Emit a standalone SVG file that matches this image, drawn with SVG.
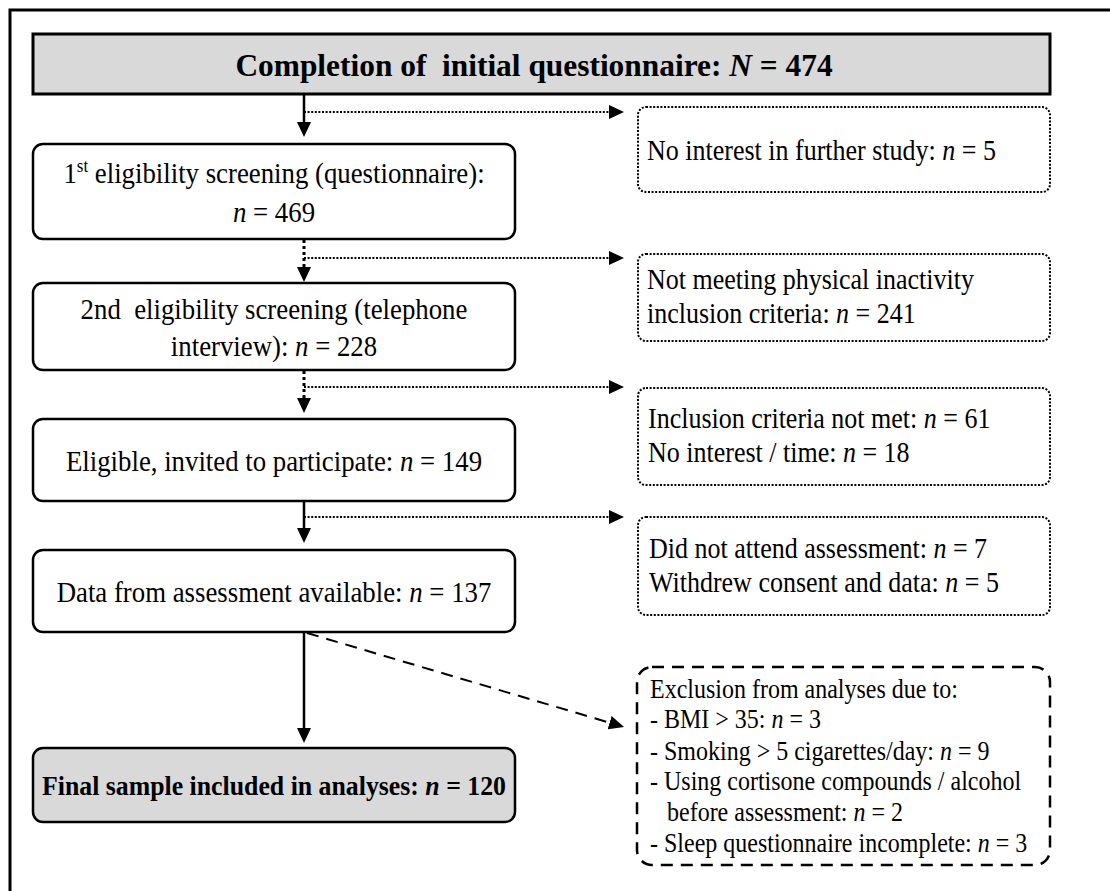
<svg xmlns="http://www.w3.org/2000/svg" width="1110" height="891" viewBox="0 0 1110 891">
<style>
.t{font-family:"Liberation Serif","Times New Roman",serif;font-size:26.8px;fill:#000;white-space:pre}
.m{text-anchor:middle}
.b{font-weight:bold}
.r{font-size:26px}
.s{font-size:24px}
.i{font-style:italic}
.node{fill:#fff;stroke:#000;stroke-width:2.5}
.grey{fill:#d9d9d9}
.dot{fill:#fff;stroke:#000;stroke-width:2;stroke-dasharray:2 1.6}
.dash{fill:#fff;stroke:#000;stroke-width:2.5;stroke-dasharray:12 8}
.c{fill:none;stroke:#000;stroke-width:2.5}
.cd{fill:none;stroke:#000;stroke-width:3;stroke-dasharray:3 3}
.ch{fill:none;stroke:#000;stroke-width:2;stroke-dasharray:2 1.6}
.cdash{fill:none;stroke:#000;stroke-width:2;stroke-dasharray:12 8}
</style>
<defs>
<marker id="ah" markerUnits="userSpaceOnUse" markerWidth="16" markerHeight="15" refX="0" refY="7" orient="auto" viewBox="0 0 16 14">
<path d="M0,0 L15,7 L0,14 z" fill="#000"/>
</marker>
</defs>
<path d="M10,891 V10 H1110" fill="none" stroke="#000" stroke-width="3"/>
<g id="connectors">
<line class="c" x1="304" y1="94" x2="304" y2="122" marker-end="url(#ah)"/>
<line class="ch" x1="304" y1="112" x2="609" y2="112" marker-end="url(#ah)"/>
<line class="cd" x1="304" y1="240" x2="304" y2="267" marker-end="url(#ah)"/>
<line class="ch" x1="304" y1="258" x2="609" y2="258" marker-end="url(#ah)"/>
<line class="cd" x1="304" y1="371" x2="304" y2="398" marker-end="url(#ah)"/>
<line class="ch" x1="304" y1="387" x2="609" y2="387" marker-end="url(#ah)"/>
<line class="c" x1="304" y1="502" x2="304" y2="528" marker-end="url(#ah)"/>
<line class="ch" x1="304" y1="517" x2="609" y2="517" marker-end="url(#ah)"/>
<line class="c" x1="304" y1="633" x2="304" y2="728" marker-end="url(#ah)"/>
<line class="cdash" x1="307" y1="633" x2="609.6" y2="722.7" marker-end="url(#ah)"/>
</g>
<g id="n0">
<rect x="33" y="34" width="1017" height="60" fill="#d9d9d9" stroke="#000" stroke-width="3"/>
<text class="t b m" x="534" y="76" style="font-size:31.4px">Completion of  initial questionnaire: <tspan class="i">N</tspan> = 474</text>
</g>
<g id="n1">
<rect class="node" x="33" y="144" width="482" height="95" rx="10"/>
<text class="t m" x="274" y="0" transform="matrix(1 0 0 1.13 0 183)">1<tspan font-size="17" dy="-10">st</tspan><tspan dy="10"> eligibility screening (questionnaire):</tspan></text>
<text class="t m" x="274" y="0" transform="matrix(1 0 0 1.13 0 222)"><tspan class="i">n</tspan> = 469</text>
</g>
<g id="n2">
<rect class="node" x="33" y="283" width="482" height="87" rx="10"/>
<text class="t m" x="274" y="0" transform="matrix(1 0 0 1.13 0 319)">2nd  eligibility screening (telephone</text>
<text class="t m" x="274" y="0" transform="matrix(1 0 0 1.13 0 356)">interview): <tspan class="i">n</tspan> = 228</text>
</g>
<g id="n3">
<rect class="node" x="33" y="419" width="482" height="82" rx="10"/>
<text class="t m" x="274" y="0" transform="matrix(1 0 0 1.13 0 471)">Eligible, invited to participate: <tspan class="i">n</tspan> = 149</text>
</g>
<g id="n4">
<rect class="node" x="33" y="550" width="482" height="82" rx="10"/>
<text class="t m" x="274" y="0" transform="matrix(1 0 0 1.13 0 602)">Data from assessment available: <tspan class="i">n</tspan> = 137</text>
</g>
<g id="n5">
<rect class="node grey" x="33" y="748" width="482" height="74" rx="10"/>
<text class="t b m" x="274" y="0" style="font-size:25.8px" transform="matrix(1 0 0 1.08 0 795)">Final sample included in analyses: <tspan class="i">n</tspan> = 120</text>
</g>
<g id="e1">
<rect class="dot" x="638" y="107" width="412" height="85" rx="8"/>
<text class="t r" x="647" y="0" transform="matrix(1 0 0 1.13 0 160)">No interest in further study: <tspan class="i">n</tspan> = 5</text>
</g>
<g id="e2">
<rect class="dot" x="638" y="254" width="412" height="87" rx="8"/>
<text class="t r" x="647" y="0" transform="matrix(1 0 0 1.13 0 289)">Not meeting physical inactivity</text>
<text class="t r" x="647" y="0" transform="matrix(1 0 0 1.13 0 323)">inclusion criteria: <tspan class="i">n</tspan> = 241</text>
</g>
<g id="e3">
<rect class="dot" x="638" y="388" width="412" height="97" rx="8"/>
<text class="t r" x="648" y="0" transform="matrix(1 0 0 1.13 0 428)">Inclusion criteria not met: <tspan class="i">n</tspan> = 61</text>
<text class="t r" x="648" y="0" transform="matrix(1 0 0 1.13 0 462)">No interest / time: <tspan class="i">n</tspan> = 18</text>
</g>
<g id="e4">
<rect class="dot" x="638" y="517" width="412" height="98" rx="8"/>
<text class="t r" x="649" y="0" transform="matrix(1 0 0 1.13 0 558)">Did not attend assessment: <tspan class="i">n</tspan> = 7</text>
<text class="t r" x="649" y="0" transform="matrix(1 0 0 1.13 0 592)">Withdrew consent and data: <tspan class="i">n</tspan> = 5</text>
</g>
<g id="e5">
<rect class="dash" x="637" y="667" width="413" height="198" rx="15"/>
<text class="t s" x="650" y="0" transform="matrix(1 0 0 1.1 0 698)">Exclusion from analyses due to:</text>
<text class="t s" x="650" y="0" transform="matrix(1 0 0 1.1 0 728)">- BMI &gt; 35: <tspan class="i">n</tspan> = 3</text>
<text class="t s" x="650" y="0" transform="matrix(1 0 0 1.1 0 760)">- Smoking &gt; 5 cigarettes/day: <tspan class="i">n</tspan> = 9</text>
<text class="t s" x="650" y="0" transform="matrix(1 0 0 1.1 0 790)">- Using cortisone compounds / alcohol</text>
<text class="t s" x="667" y="0" transform="matrix(1 0 0 1.1 0 821)">before assessment: <tspan class="i">n</tspan> = 2</text>
<text class="t s" x="650" y="0" transform="matrix(1 0 0 1.1 0 852)">- Sleep questionnaire incomplete: <tspan class="i">n</tspan> = 3</text>
</g>
</svg>
